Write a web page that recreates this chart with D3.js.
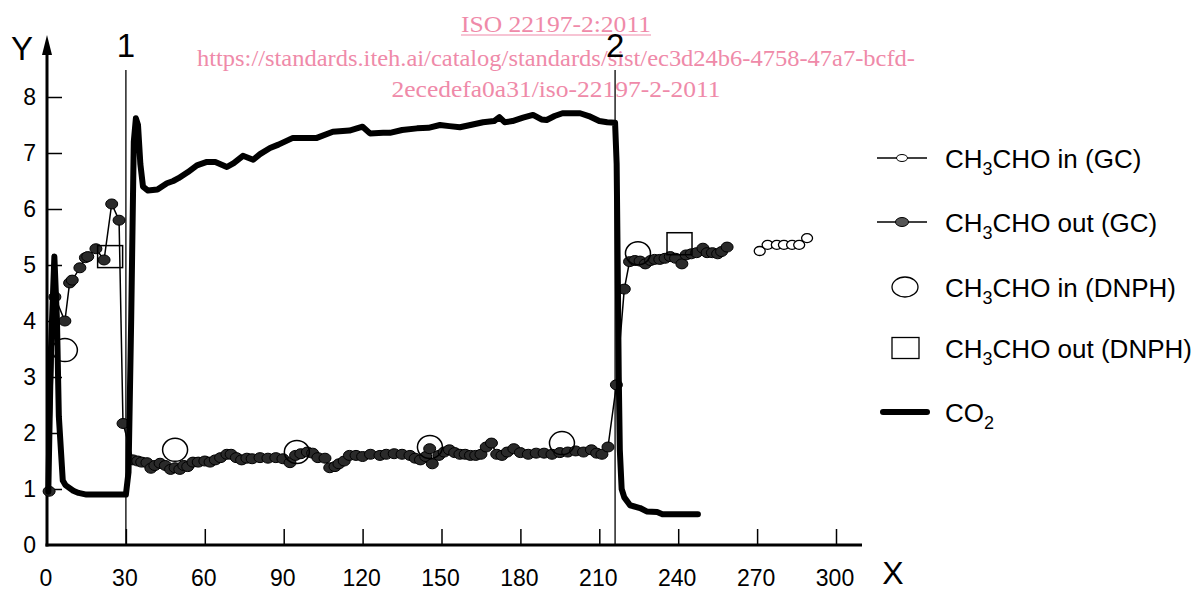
<!DOCTYPE html>
<html>
<head>
<meta charset="utf-8">
<script src="https://cdn.jsdelivr.net/npm/d3@7"></script>
<style>
  body { margin: 0; background: #fff; }
  svg { display: block; font-family: "Liberation Sans", Arial, sans-serif; }
</style>
</head>
<body>
<div id="chart-area"></div>
<script>
// ---- data ----
let xTicks = [0, 30, 60, 90, 120, 150, 180, 210, 240, 270, 300];
let yTicks = [0, 1, 2, 3, 4, 5, 6, 7, 8];

// event markers (time)
let eventLabels = ["1", "2"];
let eventTimes = [30, 216];

// CO2 trace [time, value]
let co2 = [
  [0.5, 0.95], [1.5, 3.5], [2.8, 5.15], [3.8, 4.0], [4.5, 2.3], [6, 1.15], [7, 1.07],
  [10, 0.97], [12, 0.93], [15, 0.9], [30, 0.9], [31, 1.3], [32, 4.0], [33, 7.2],
  [33.8, 7.62], [34.6, 7.5], [35.5, 6.8], [36.5, 6.4], [38.4, 6.33], [42, 6.35],
  [45.6, 6.46], [48, 6.5], [50, 6.55], [53.6, 6.66], [57, 6.78], [60.8, 6.84],
  [64, 6.84], [68.4, 6.75], [71, 6.82], [74.5, 6.95], [78.4, 6.88], [81, 6.98],
  [84.8, 7.09], [88, 7.15], [93.5, 7.27], [102.6, 7.27], [108.7, 7.38], [115, 7.4],
  [120, 7.47], [122.8, 7.35], [127.8, 7.36], [130.4, 7.36], [135, 7.41], [140.7, 7.44],
  [145, 7.45], [149.4, 7.5], [153, 7.48], [157, 7.46], [161, 7.5], [165.8, 7.55],
  [170, 7.57], [172, 7.64], [174, 7.55], [177, 7.57], [181, 7.63], [184.8, 7.68],
  [188, 7.6], [190, 7.59], [193, 7.66], [196, 7.71], [202.7, 7.71], [206, 7.66],
  [210, 7.57], [213, 7.55], [216, 7.54], [216.6, 6.8], [217, 5.0], [217.4, 3.0],
  [217.8, 1.7], [218.5, 1.0], [219.5, 0.85], [221.7, 0.71], [225.5, 0.66], [228, 0.6],
  [232, 0.59], [234, 0.55], [247.5, 0.55]
];

// CH3CHO out (GC)
let outGC = [
  [0.8, 0.96], [3.0, 4.43], [6.8, 4.0], [8.6, 4.68], [9.6, 4.73], [12.5, 4.95],
  [14.6, 5.13], [15.5, 5.15], [18.6, 5.29], [21.7, 5.09], [24.6, 6.09], [27.4, 5.8],
  [28.9, 2.17], [32.7, 1.52], [34.5, 1.5], [36, 1.48], [38, 1.47], [39.5, 1.37],
  [41, 1.42], [43, 1.46], [45, 1.42], [47, 1.35], [48.7, 1.38], [50.5, 1.35],
  [52, 1.42], [53.5, 1.4], [55.5, 1.48], [57.5, 1.48], [60, 1.5], [62, 1.48],
  [64, 1.52], [66, 1.56], [68.4, 1.62], [70, 1.62], [72, 1.56], [74, 1.52],
  [76, 1.55], [78, 1.54], [81, 1.56], [84, 1.55], [87, 1.56], [89.7, 1.54],
  [92.4, 1.47], [94.5, 1.6], [96.5, 1.63], [99, 1.66], [101, 1.64], [103, 1.56],
  [105.7, 1.55], [107.5, 1.38], [109.5, 1.4], [111, 1.45], [113, 1.5], [115, 1.6],
  [117.5, 1.6], [120, 1.58], [123, 1.62], [126.6, 1.6], [129, 1.62], [132, 1.63],
  [135, 1.62], [138, 1.6], [140, 1.55], [142, 1.52], [144, 1.58], [145.5, 1.72],
  [146.5, 1.45], [149, 1.6], [151, 1.66], [153, 1.7], [155, 1.65], [157, 1.62],
  [159, 1.62], [161, 1.6], [163, 1.6], [165, 1.62], [167, 1.75], [169, 1.82],
  [171, 1.62], [173, 1.6], [175, 1.66], [177.5, 1.72], [180, 1.65], [183, 1.62],
  [186, 1.64], [189, 1.64], [192, 1.62], [195, 1.65], [198, 1.66], [201, 1.68],
  [204, 1.66], [207, 1.7], [209, 1.64], [211, 1.62], [213.3, 1.75], [216.5, 2.86],
  [219.5, 4.57], [221.5, 5.06], [223.5, 5.08], [225.5, 5.07], [227.5, 5.02],
  [229.5, 5.08], [231, 5.1], [233, 5.1], [235, 5.12], [237, 5.15], [239, 5.12],
  [241.4, 5.02], [243, 5.18], [245, 5.2], [247, 5.22], [249.4, 5.3], [251, 5.22],
  [253, 5.22], [255, 5.2], [256.5, 5.24], [258.6, 5.32]
];

// CH3CHO in (GC)
let inGC = [
  [271, 5.25], [274, 5.36], [277.5, 5.36], [280.2, 5.36], [283.3, 5.36], [286, 5.36], [289, 5.48]
];

// CH3CHO in (DNPH)
let inDNPH = [
  [6.8, 3.48], [48.7, 1.70], [95, 1.66], [145.6, 1.75], [195.8, 1.82], [224.7, 5.21]
];

// CH3CHO out (DNPH)
let outDNPH = [
  [24, 5.15], [240.5, 5.38]
];

// legend entries: text parts, "s" marks subscript
let legendLabels = [
  [["CH", ""], ["3", "s"], ["CHO in (GC)", ""]],
  [["CH", ""], ["3", "s"], ["CHO out (GC)", ""]],
  [["CH", ""], ["3", "s"], ["CHO in (DNPH)", ""]],
  [["CH", ""], ["3", "s"], ["CHO out (DNPH)", ""]],
  [["CO", ""], ["2", "s"]]
];
let legendKinds = ["inGC", "outGC", "inDNPH", "outDNPH", "co2"];

let watermark = [
  "ISO 22197-2:2011",
  "https://standards.iteh.ai/catalog/standards/sist/ec3d24b6-4758-47a7-bcfd-",
  "2ecedefa0a31/iso-22197-2-2011"
];

// ---- drawing ----
let W = 1195, H = 591;
let svg = d3.select("#chart-area").append("svg")
    .attr("width", W)
    .attr("height", H);

let x = d3.scaleLinear().domain([0, 300]).range([47, 836]);
let y = d3.scaleLinear().domain([0, 8]).range([545, 97]);

// watermark
let wmY = [32, 66, 97];
let wmLen = [190, 718, 329];
svg.append("g")
    .selectAll("text")
    .data(watermark)
  .enter().append("text")
    .attr("x", 556)
    .attr("y", (d, i) => wmY[i])
    .attr("text-anchor", "middle")
    .attr("textLength", (d, i) => wmLen[i])
    .attr("lengthAdjust", "spacingAndGlyphs")
    .attr("font-family", "'Liberation Serif', 'Times New Roman', serif")
    .attr("font-size", 24)
    .attr("fill", "#ef8aa9")
    .text(d => d);
svg.append("line")
    .attr("x1", 461).attr("x2", 651)
    .attr("y1", 35).attr("y2", 35)
    .attr("stroke", "#ef8aa9").attr("stroke-width", 1.2);

// axes
let xAxisGroup = svg.append("g")
    .attr("transform", `translate(0, ${y(0)})`)
    .call(d3.axisTop(x).tickValues(xTicks.slice(1)).tickSize(16).tickFormat(""));
xAxisGroup.select(".domain").remove();
xAxisGroup.selectAll("line").attr("stroke", "#000").attr("stroke-width", 1.5);

let yAxisGroup = svg.append("g")
    .attr("transform", `translate(${x(0)}, 0)`)
    .call(d3.axisRight(y).tickValues(yTicks.slice(1)).tickSize(15).tickFormat(""));
yAxisGroup.select(".domain").remove();
yAxisGroup.selectAll("line").attr("stroke", "#000").attr("stroke-width", 1.5);

// axis lines with arrow on Y
svg.append("line")
    .attr("x1", x(0)).attr("x2", x(0))
    .attr("y1", y(0) + 1.5).attr("y2", 50)
    .attr("stroke", "#000").attr("stroke-width", 3);
svg.append("path")
    .attr("d", `M${x(0)},35 L${x(0) - 5},55 L${x(0) + 5},55 Z`)
    .attr("fill", "#000");
svg.append("line")
    .attr("x1", x(0) - 1.5).attr("x2", 862)
    .attr("y1", y(0)).attr("y2", y(0))
    .attr("stroke", "#000").attr("stroke-width", 3);

// tick labels
svg.append("g").selectAll("text")
    .data(xTicks)
  .enter().append("text")
    .attr("x", d => x(d) - 1)
    .attr("y", 586)
    .attr("text-anchor", "middle")
    .attr("font-size", 23)
    .text(d => d);

svg.append("g").selectAll("text")
    .data(yTicks)
  .enter().append("text")
    .attr("x", 36)
    .attr("y", d => y(d) + 8)
    .attr("text-anchor", "end")
    .attr("font-size", 23)
    .text(d => d);

svg.append("text").attr("x", 22).attr("y", 60)
    .attr("text-anchor", "middle").attr("font-size", 33).text("Y");
svg.append("text").attr("x", 893).attr("y", 584)
    .attr("text-anchor", "middle").attr("font-size", 32).text("X");

// event lines
svg.append("g").selectAll("line")
    .data(eventTimes)
  .enter().append("line")
    .attr("x1", d => x(d)).attr("x2", d => x(d))
    .attr("y1", 70).attr("y2", y(0))
    .attr("stroke", "#000").attr("stroke-width", 1.3);
svg.append("g").selectAll("text")
    .data(eventTimes)
  .enter().append("text")
    .attr("x", d => x(d))
    .attr("y", 57)
    .attr("text-anchor", "middle")
    .attr("font-size", 33)
    .text((d, i) => eventLabels[i]);

let line = d3.line().x(d => x(d[0])).y(d => y(d[1]));

// CH3CHO out (GC)
svg.append("path")
    .datum(outGC)
    .attr("d", line)
    .attr("fill", "none")
    .attr("stroke", "#000")
    .attr("stroke-width", 1.5);
svg.append("g").selectAll("ellipse")
    .data(outGC)
  .enter().append("ellipse")
    .attr("cx", d => x(d[0]))
    .attr("cy", d => y(d[1]))
    .attr("rx", 6).attr("ry", 5)
    .attr("fill", "#2a2a2a")
    .attr("stroke", "#000")
    .attr("stroke-width", 1);

// CO2
svg.append("path")
    .datum(co2)
    .attr("d", line)
    .attr("fill", "none")
    .attr("stroke", "#000")
    .attr("stroke-width", 6)
    .attr("stroke-linejoin", "round")
    .attr("stroke-linecap", "round");

// CH3CHO in (GC)
svg.append("path")
    .datum(inGC)
    .attr("d", line)
    .attr("fill", "none")
    .attr("stroke", "#000")
    .attr("stroke-width", 1.2);
svg.append("g").selectAll("ellipse")
    .data(inGC)
  .enter().append("ellipse")
    .attr("cx", d => x(d[0]))
    .attr("cy", d => y(d[1]))
    .attr("rx", 5.5).attr("ry", 4.5)
    .attr("fill", "#fff")
    .attr("stroke", "#000")
    .attr("stroke-width", 1.3);

// CH3CHO in (DNPH)
svg.append("g").selectAll("ellipse")
    .data(inDNPH)
  .enter().append("ellipse")
    .attr("cx", d => x(d[0]))
    .attr("cy", d => y(d[1]))
    .attr("rx", 12.5).attr("ry", 11.5)
    .attr("fill", "none")
    .attr("stroke", "#000")
    .attr("stroke-width", 1.5);

// CH3CHO out (DNPH)
svg.append("g").selectAll("rect")
    .data(outDNPH)
  .enter().append("rect")
    .attr("x", d => x(d[0]) - 12.5)
    .attr("y", d => y(d[1]) - 11)
    .attr("width", 25).attr("height", 22)
    .attr("fill", "none")
    .attr("stroke", "#000")
    .attr("stroke-width", 1.5);

// legend
let legendRowY = [158, 222, 287, 348, 412];
let legend = svg.append("g");
legendKinds.forEach((k, i) => {
  let cy = legendRowY[i];
  let g = legend.append("g");
  if (k === "inGC" || k === "outGC") {
    g.append("line").attr("x1", 877).attr("x2", 927).attr("y1", cy).attr("y2", cy)
      .attr("stroke", "#000").attr("stroke-width", 1.3);
    g.append("ellipse").attr("cx", 902).attr("cy", cy)
      .attr("rx", k === "inGC" ? 5.5 : 6.5).attr("ry", k === "inGC" ? 3.5 : 4.5)
      .attr("fill", k === "inGC" ? "#fff" : "#555")
      .attr("stroke", "#000").attr("stroke-width", 1);
  } else if (k === "inDNPH") {
    g.append("ellipse").attr("cx", 905).attr("cy", cy)
      .attr("rx", 13).attr("ry", 10)
      .attr("fill", "none").attr("stroke", "#000").attr("stroke-width", 1.3);
  } else if (k === "outDNPH") {
    g.append("rect").attr("x", 892).attr("y", cy - 10.5)
      .attr("width", 27).attr("height", 21)
      .attr("fill", "none").attr("stroke", "#000").attr("stroke-width", 1.3);
  } else {
    g.append("line").attr("x1", 883).attr("x2", 927).attr("y1", cy).attr("y2", cy)
      .attr("stroke", "#000").attr("stroke-width", 6).attr("stroke-linecap", "round");
  }
  let t = g.append("text").attr("x", 945).attr("y", cy + 9.5).attr("font-size", 26);
  legendLabels[i].forEach(p => {
    let ts = t.append("tspan").text(p[0]);
    if (p[1] === "s") ts.attr("font-size", 18).attr("dy", 7);
    else if (t.selectAll("tspan").size() > 1) ts.attr("dy", -7);
  });
});
</script>
</body>
</html>
